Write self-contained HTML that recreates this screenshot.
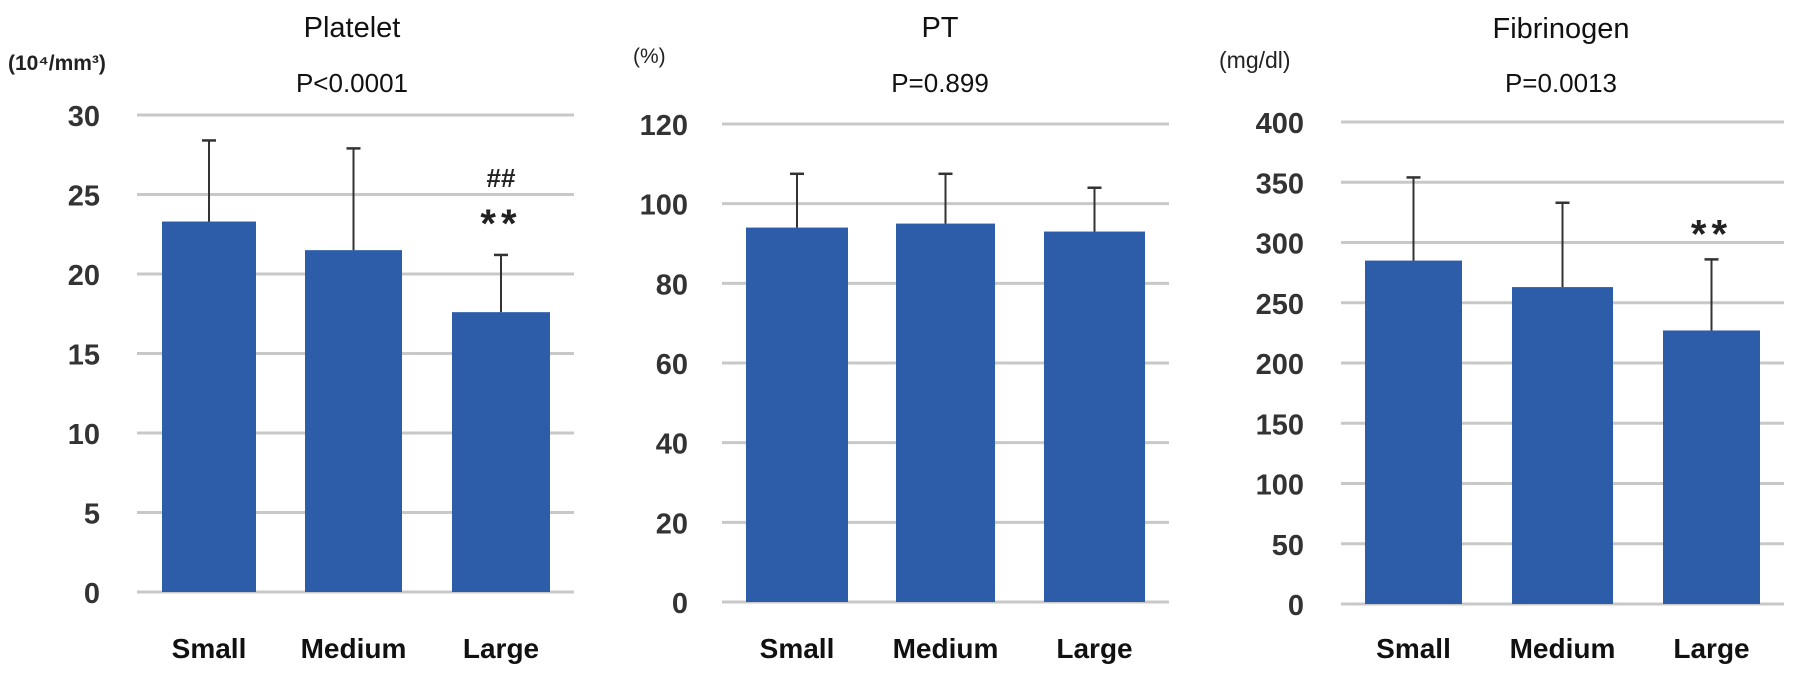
<!DOCTYPE html>
<html><head><meta charset="utf-8"><style>
html,body{margin:0;padding:0;background:#fff;}
svg{display:block;font-family:"Liberation Sans",Arial,sans-serif;}
</style></head><body>
<svg id="chart" width="1795" height="677" viewBox="0 0 1795 677" xmlns="http://www.w3.org/2000/svg"></svg>
<script>
const categories = ["Small","Medium","Large"];
const plateletValues = [23.3, 21.5, 17.6];
const plateletErrors = [28.4, 27.9, 21.2];
const plateletTicks = [0,5,10,15,20,25,30];
const ptValues = [94, 95, 93];
const ptErrors = [107.5, 107.5, 104];
const ptTicks = [0,20,40,60,80,100,120];
const fibValues = [285, 263, 227];
const fibErrors = [354, 333, 286];
const fibTicks = [0,50,100,150,200,250,300,350,400];

const NS = "http://www.w3.org/2000/svg";
const svg = document.getElementById("chart");
function mk(tag, attrs, parent, text){
  const e = document.createElementNS(NS, tag);
  for (const k in attrs) e.setAttribute(k, attrs[k]);
  if (text !== undefined) e.textContent = text;
  (parent||svg).appendChild(e);
  return e;
}
const panels = [
  {key:"platelet", title:"Platelet", p:"P<0.0001", unit:"(10⁴/mm³)", unitX:8, unitY:70, unitSize:21, unitBold:true,
   vals:plateletValues, errs:plateletErrors, ticks:plateletTicks, max:30, y0:592, yTop:115,
   gx0:137, gx1:574, bars:[[162,256],[305,402],[452,550]], tickX:100, titleX:352, titleY:37,
   marks:[{bar:2,text:"##",dy:-68,size:26},{bar:2,text:"**",dy:-32,size:40}]},
  {key:"pt", title:"PT", p:"P=0.899", unit:"(%)", unitX:633, unitY:63, unitSize:21, unitBold:false,
   vals:ptValues, errs:ptErrors, ticks:ptTicks, max:120, y0:602, yTop:124,
   gx0:722, gx1:1169, bars:[[746,848],[896,995],[1044,1145]], tickX:688, titleX:940, titleY:37, marks:[]},
  {key:"fibrinogen", title:"Fibrinogen", p:"P=0.0013", unit:"(mg/dl)", unitX:1219, unitY:68, unitSize:23, unitBold:false,
   vals:fibValues, errs:fibErrors, ticks:fibTicks, max:400, y0:604, yTop:122,
   gx0:1341, gx1:1784, bars:[[1365,1462],[1512,1613],[1663,1760]], tickX:1304, titleX:1561, titleY:38,
   marks:[{bar:2,text:"**",dy:-26,size:40}]}
];
panels.forEach(P=>{
  const g = mk("g",{});
  
  
  const y = v => P.y0 - (v/P.max)*(P.y0-P.yTop);
  const t = mk("text",{x:P.titleX,y:P.titleY,"text-anchor":"middle","font-size":29,fill:"#111"},g,P.title);
  
  
  const pv = mk("text",{x:P.titleX,y:92,"text-anchor":"middle","font-size":26,fill:"#111"},g,P.p);
  
  
  const u = mk("text",{x:P.unitX,y:P.unitY,"font-size":P.unitSize,"font-weight":P.unitBold?"bold":"normal",fill:"#222"},g,P.unit);
  
  
  P.ticks.forEach(tv=>{
    const gl = mk("line",{x1:P.gx0,x2:P.gx1,y1:y(tv),y2:y(tv),stroke:"#c8c8c8","stroke-width":3},g);
    
    
    const tl = mk("text",{x:P.tickX,y:y(tv)+11,"text-anchor":"end","font-size":29,"font-weight":"bold",fill:"#333"},g,String(tv));
    
    
  });
  categories.forEach((c,i)=>{
    const [x0,x1] = P.bars[i];
    const cx = (x0+x1)/2;
    const r = mk("rect",{x:x0,y:y(P.vals[i]),width:x1-x0,height:P.y0-y(P.vals[i]),fill:"#2d5ca8"},g);
    
    
    const el = mk("line",{x1:cx,x2:cx,y1:y(P.vals[i]),y2:y(P.errs[i]),stroke:"#333","stroke-width":2},g);
    
    
    const ec = mk("line",{x1:cx-7,x2:cx+7,y1:y(P.errs[i]),y2:y(P.errs[i]),stroke:"#333","stroke-width":2.5},g);
    
    
    const cl = mk("text",{x:cx,y:658,"text-anchor":"middle","font-size":28,"font-weight":"bold",fill:"#111"},g,c);
    
    
  });
  P.marks.forEach(m=>{
    const [x0,x1] = P.bars[m.bar];
    const mt = mk("text",{x:(x0+x1)/2,y:y(P.errs[m.bar])+m.dy+(m.text==="**"?14:0),"text-anchor":"middle","font-size":m.size,"font-weight":"bold",fill:"#222","letter-spacing":m.text==="**"?5:0},g,m.text);
    
    
  });
});
</script>
</body></html>
